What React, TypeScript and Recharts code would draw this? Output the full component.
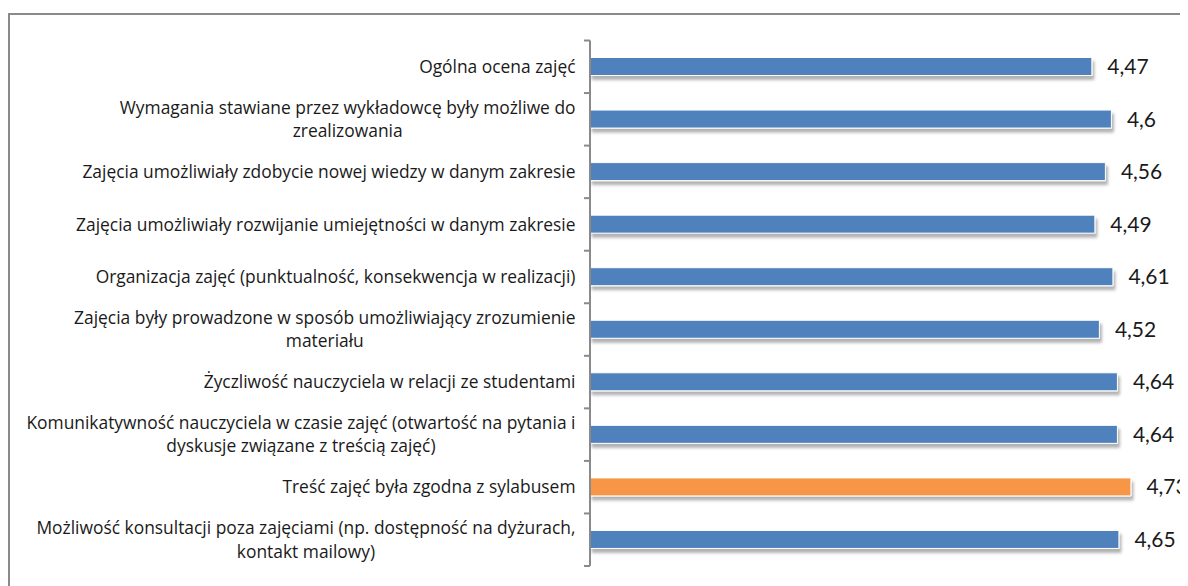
import React from "react";
import { BarChart, Bar, XAxis, YAxis, Cell, LabelList } from "recharts";

const categories = [
  "Ogólna ocena zajęć",
  "Wymagania stawiane przez wykładowcę były możliwe do\nzrealizowania",
  "Zajęcia umożliwiały zdobycie nowej wiedzy w danym zakresie",
  "Zajęcia umożliwiały rozwijanie umiejętności w danym zakresie",
  "Organizacja zajęć (punktualność, konsekwencja w realizacji)",
  "Zajęcia były prowadzone w sposób umożliwiający zrozumienie\nmateriału",
  "Życzliwość nauczyciela w relacji ze studentami",
  "Komunikatywność nauczyciela w czasie zajęć (otwartość na pytania i\ndyskusje związane z treścią zajęć)",
  "Treść zajęć była zgodna z sylabusem",
  "Możliwość konsultacji poza zajęciami (np. dostępność na dyżurach,\nkontakt mailowy)",
];

const scores = [4.47, 4.6, 4.56, 4.49, 4.61, 4.52, 4.64, 4.64, 4.73, 4.65];

// which bar is highlighted
const highlighted = [false, false, false, false, false, false, false, false, true, false];

const data = categories.map((name, i) => ({ name, value: scores[i] }));

const W = 1180;
const H = 578;
const MARGIN = { top: 32.5, right: 16.5, bottom: 20, left: 0 };
const AXIS_W = 582;
const BAND = (H - MARGIN.top - MARGIN.bottom) / categories.length;
const LABEL_FONT = "'Open Sans', sans-serif";
const LABEL_SIZE = 17.4;
const VALUE_FONT = "Lato, sans-serif";
const TICK_SIZE = 6;
const TICK_MARGIN = 8.5;

let ctx: CanvasRenderingContext2D | null = null;
function measure(text: string, font: string) {
  if (!ctx) ctx = document.createElement("canvas").getContext("2d");
  if (!ctx) return text.length * 8;
  ctx.font = font;
  return ctx.measureText(text).width;
}

function CategoryTick(props: any) {
  const { x, y, payload, index } = props;
  const lines: string[] = String(payload.value).split("\n");
  const lh = 23.5;
  const widths = lines.map((l) => measure(l, `${LABEL_SIZE}px 'Open Sans'`));
  const block = Math.max(...widths);
  const startY = y - ((lines.length - 1) * lh) / 2;
  const axisX = x + TICK_SIZE + TICK_MARGIN;
  return (
    <g>
      {lines.map((l, i) => (
        <text
          key={i}
          x={lines.length > 1 ? x - block / 2 : x}
          y={startY + i * lh}
          dy="0.35em"
          textAnchor={lines.length > 1 ? "middle" : "end"}
          fontSize={LABEL_SIZE}
          fontFamily={LABEL_FONT}
          fill="#1a1a1a"
        >
          {l}
        </text>
      ))}
      <line x1={axisX - TICK_SIZE} x2={axisX} y1={y - BAND / 2} y2={y - BAND / 2} stroke="#8a8a8a" strokeWidth={2} />
      {index === categories.length - 1 && (
        <line x1={axisX - TICK_SIZE} x2={axisX} y1={y + BAND / 2} y2={y + BAND / 2} stroke="#8a8a8a" strokeWidth={2} />
      )}
    </g>
  );
}

function ValueLabel(props: any) {
  const { x, y, width, height, value } = props;
  return (
    <text
      x={x + width + 15.5}
      y={y + height / 2}
      dy="0.36em"
      fontSize={21}
      fontFamily={VALUE_FONT}
      fill="#1a1a1a"
    >
      {String(value).replace(".", ",")}
    </text>
  );
}

export default function App() {
  return (
    <div style={{ position: "relative", width: W, height: H, overflow: "hidden" }}>
      <style>{"html,body{overflow:hidden}"}</style>
      <div
        style={{
          position: "absolute",
          left: 0,
          top: 5,
          width: 1220,
          height: 640,
          border: "2px solid #8a8a8a",
          boxSizing: "border-box",
        }}
      />
      <div style={{ position: "absolute", left: 0, top: 0 }}>
        <BarChart width={W} height={H} data={data} layout="vertical" margin={MARGIN} barSize={18}>
          <defs>
            <filter id="barShadow" x="-5%" y="-50%" width="110%" height="250%">
              <feDropShadow dx={2} dy={4} stdDeviation={1.5} floodColor="#000" floodOpacity={0.3} />
            </filter>
          </defs>
          <XAxis type="number" domain={[1.13, 5]} hide />
          <YAxis
            type="category"
            dataKey="name"
            width={AXIS_W}
            interval={0}
            tickLine={false}
            tickSize={TICK_SIZE}
            tickMargin={TICK_MARGIN}
            axisLine={{ stroke: "#8a8a8a", strokeWidth: 2 }}
            tick={<CategoryTick />}
          />
          <Bar dataKey="value" isAnimationActive={false} stroke="#ffffff" strokeWidth={1} filter="url(#barShadow)">
            {data.map((d, i) => (
              <Cell key={d.name} fill={highlighted[i] ? "#f79646" : "#4f81bd"} />
            ))}
            <LabelList dataKey="value" content={<ValueLabel />} />
          </Bar>
        </BarChart>
      </div>
    </div>
  );
}
